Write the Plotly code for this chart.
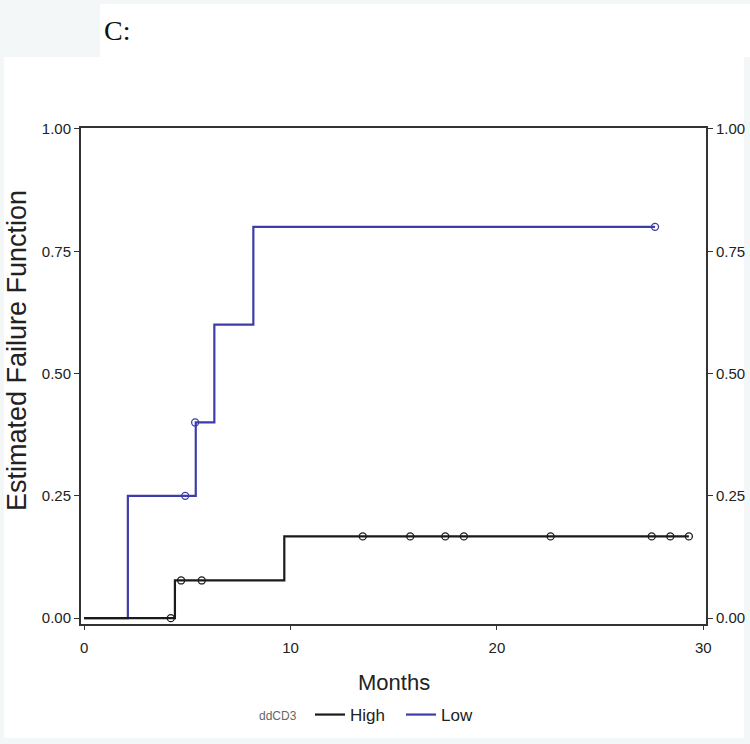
import plotly.graph_objects as go

# Kaplan-Meier failure curves
high_time = [0, 4.4, 9.7, 29.3]
high_fail = [0, 0.077, 0.167, 0.167]
high_cens_time = [4.2, 4.7, 5.7, 13.5, 15.8, 17.5, 18.4, 22.6, 27.5, 28.4, 29.3]
high_cens_fail = [0, 0.077, 0.077, 0.167, 0.167, 0.167, 0.167, 0.167, 0.167, 0.167, 0.167]

low_time = [0, 2.12, 5.41, 6.31, 8.2, 27.66]
low_fail = [0, 0.25, 0.40, 0.60, 0.80, 0.80]
low_cens_time = [4.9, 5.38, 27.66]
low_cens_fail = [0.25, 0.40, 0.80]

x_ticks = [0, 10, 20, 30]
y_ticks = [0, 0.25, 0.5, 0.75, 1.0]

BLACK = "#1a1a1a"
BLUE = "#3d3da8"
FRAME = "#333333"

W, H = 750, 744
# plot area in pixels: left 81, right 706, top 128, bottom 624
L, R, T, B = 81, 706, 128, 624


def px_x(p):
    return (p - L) / (R - L)


def px_y(p):
    return (B - p) / (B - T)


fig = go.Figure()

fig.add_trace(go.Scatter(x=low_time, y=low_fail, mode="lines", line_shape="hv",
                         line=dict(color=BLUE, width=2.2), name="Low", legendrank=2))
fig.add_trace(go.Scatter(x=high_time, y=high_fail, mode="lines", line_shape="hv",
                         line=dict(color=BLACK, width=2.2), name="High", legendrank=1))
fig.add_trace(go.Scatter(x=low_cens_time, y=low_cens_fail, mode="markers", showlegend=False,
                         marker=dict(symbol="circle-open", size=7, color=BLUE, line=dict(width=1.3))))
fig.add_trace(go.Scatter(x=high_cens_time, y=high_cens_fail, mode="markers", showlegend=False,
                         marker=dict(symbol="circle-open", size=7, color=BLACK, line=dict(width=1.3))))
# dummy trace so the right axis gets drawn
fig.add_trace(go.Scatter(x=[0], y=[0], yaxis="y2", mode="markers", showlegend=False,
                         marker=dict(opacity=0), hoverinfo="skip"))

tick_font = dict(family="Liberation Sans, Arial", size=15, color="#222222")

fig.update_layout(
    width=W, height=H,
    margin=dict(l=L, r=W - R, t=T, b=H - B, autoexpand=False),
    paper_bgcolor="#f3f7f7",
    plot_bgcolor="white",
    font=dict(family="Liberation Sans, Arial", color="#222222"),
    xaxis=dict(range=[-0.15, 30.13], tickvals=x_ticks, ticks="outside", ticklen=4,
               tickcolor=FRAME, showline=True, linecolor=FRAME, linewidth=2, mirror=True,
               showgrid=False, zeroline=False, tickfont=tick_font, ticklabelstandoff=5),
    yaxis=dict(range=[-0.012, 1.002], tickvals=y_ticks, tickformat=".2f", ticks="outside",
               ticklen=5, tickcolor=FRAME, showline=True, linecolor=FRAME, linewidth=2,
               showgrid=False, zeroline=False, tickfont=tick_font),
    yaxis2=dict(range=[-0.012, 1.002], tickvals=y_ticks, tickformat=".2f", ticks="outside",
                ticklen=5, tickcolor=FRAME, showline=True, linecolor=FRAME, linewidth=2,
                overlaying="y", side="right", showgrid=False, zeroline=False, tickfont=tick_font),
    legend=dict(orientation="h", x=px_x(310), y=px_y(715), xanchor="left", yanchor="middle",
                bgcolor="rgba(0,0,0,0)", font=dict(size=17, color="#222222"),
                entrywidth=46, entrywidthmode="pixels"),
    showlegend=True,
)

# white page, leaving the light grey corner and thin border of the original
fig.add_shape(type="rect", xref="paper", yref="paper", layer="below",
              x0=px_x(4), x1=px_x(744), y0=px_y(738), y1=px_y(57),
              fillcolor="white", line=dict(width=0))
fig.add_shape(type="rect", xref="paper", yref="paper", layer="below",
              x0=px_x(100), x1=px_x(750), y0=px_y(57), y1=px_y(4),
              fillcolor="white", line=dict(width=0))

fig.add_annotation(text="C:", xref="paper", yref="paper", x=px_x(102), y=px_y(30),
                   xanchor="left", yanchor="middle", showarrow=False,
                   font=dict(family="Liberation Serif, Times New Roman", size=28, color="#111111"))
fig.add_annotation(text="ddCD3", xref="paper", yref="paper", x=px_x(257), y=px_y(716),
                   xanchor="left", yanchor="middle", showarrow=False,
                   font=dict(size=12, color="#666666"))
fig.add_annotation(text="Estimated Failure Function", xref="paper", yref="paper",
                   x=px_x(17), y=px_y(351), textangle=-90, showarrow=False,
                   xanchor="center", yanchor="middle",
                   font=dict(size=27, color="#222222"))
fig.add_annotation(text="Months", xref="paper", yref="paper",
                   x=px_x(394), y=px_y(682), showarrow=False,
                   xanchor="center", yanchor="middle",
                   font=dict(size=22, color="#222222"))

# drop the default 8px page margin so the figure fills the window exactly
fig.write_html("out.html", config={"displayModeBar": False},
               post_script="document.body.style.margin='0';document.body.style.overflow='hidden';")
